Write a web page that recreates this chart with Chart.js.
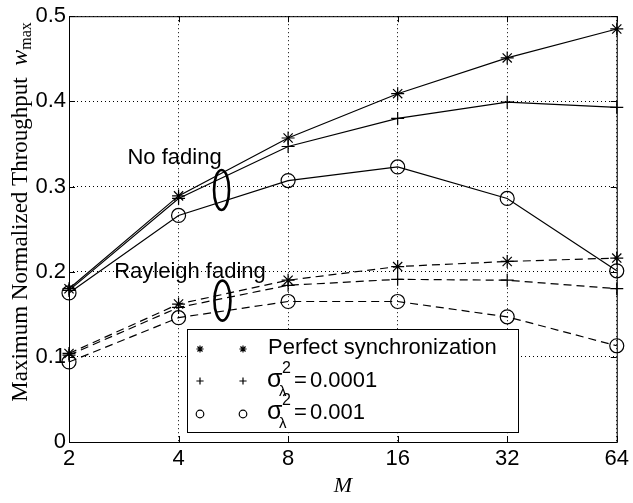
<!DOCTYPE html>
<html>
<head>
<meta charset="utf-8">
<title>Maximum normalized throughput vs M</title>
<script src="https://cdn.jsdelivr.net/npm/chart.js@4.4.1/dist/chart.umd.min.js"></script>
<style>
  html, body { margin: 0; padding: 0; background: #fff; }
  #wrap { width: 633px; height: 503px; }
</style>
</head>
<body>
<div id="wrap"><canvas id="chart" width="633" height="503"></canvas></div>
<script>
// Number of subcarriers M (log2 axis)
const mValues = [2, 4, 8, 16, 32, 64];
const yTicks = [0, 0.1, 0.2, 0.3, 0.4, 0.5];

// No fading (solid lines)
const noFadePerfect = [0.180, 0.289, 0.357, 0.409, 0.451, 0.485];
const noFadeSigma4 = [0.178, 0.286, 0.347, 0.380, 0.399, 0.393];
const noFadeSigma3 = [0.175, 0.266, 0.307, 0.323, 0.286, 0.201];

// Rayleigh fading (dashed lines)
const rayPerfect = [0.104, 0.162, 0.190, 0.206, 0.212, 0.216];
const raySigma4 = [0.102, 0.158, 0.184, 0.191, 0.190, 0.180];
const raySigma3 = [0.094, 0.146, 0.165, 0.165, 0.147, 0.113];

const FONT = '"Liberation Sans", Arial, sans-serif';
const SERIF = '"Liberation Serif", "DejaVu Serif", serif';

function series(values, style, dashed) {
  return {
    data: values.map((v, i) => ({ x: mValues[i], y: v })),
    borderColor: '#000',
    borderWidth: 1.2,
    borderDash: dashed ? [8, 5] : [],
    pointStyle: style,
    pointRadius: style === 'circle' ? 7 : 6.5,
    pointHoverRadius: style === 'circle' ? 7 : 6.5,
    pointBorderWidth: 1.2,
    pointBorderColor: '#000',
    pointBackgroundColor: 'rgba(0,0,0,0)',
    fill: false,
    tension: 0,
    clip: false
  };
}

// Box around the axes with inward tick marks
const framePlugin = {
  id: 'frame',
  afterDatasetsDraw(chart) {
    const { ctx, chartArea: a, scales } = chart;
    ctx.save();
    ctx.strokeStyle = '#000';
    ctx.lineWidth = 1;
    ctx.setLineDash([]);
    ctx.strokeRect(a.left + 0.5, a.top + 0.5, a.right - a.left, a.bottom - a.top);
    const len = 6;
    ctx.beginPath();
    mValues.forEach(v => {
      const x = Math.round(scales.x.getPixelForValue(v)) + 0.5;
      ctx.moveTo(x, a.bottom); ctx.lineTo(x, a.bottom - len);
      ctx.moveTo(x, a.top); ctx.lineTo(x, a.top + len);
    });
    yTicks.forEach(v => {
      const y = Math.round(scales.y.getPixelForValue(v)) + 0.5;
      ctx.moveTo(a.left, y); ctx.lineTo(a.left + len, y);
      ctx.moveTo(a.right, y); ctx.lineTo(a.right - len, y);
    });
    ctx.stroke();
    ctx.restore();
  }
};

// Text labels and ellipses grouping the curve families
const notesPlugin = {
  id: 'notes',
  afterDatasetsDraw(chart) {
    const { ctx, scales } = chart;
    const px = v => scales.x.getPixelForValue(v);
    const py = v => scales.y.getPixelForValue(v);
    ctx.save();
    ctx.fillStyle = '#000';
    ctx.font = '22px ' + FONT;
    ctx.textAlign = 'center';
    ctx.textBaseline = 'alphabetic';
    ctx.fillText('No fading', px(3.9), py(0.327));
    ctx.fillText('Rayleigh fading', px(4.3), py(0.193));
    ctx.strokeStyle = '#000';
    ctx.lineWidth = 2.6;
    ctx.beginPath();
    ctx.ellipse(px(5.25), py(0.296), 7.5, 20, 0, 0, Math.PI * 2);
    ctx.stroke();
    ctx.beginPath();
    ctx.ellipse(px(5.28), py(0.166), 8, 20, 0, 0, Math.PI * 2);
    ctx.stroke();
    ctx.restore();
  }
};

function drawMarker(ctx, style, x, y, r) {
  ctx.beginPath();
  if (style === 'circle') {
    ctx.arc(x, y, r, 0, Math.PI * 2);
  } else {
    ctx.moveTo(x - r, y); ctx.lineTo(x + r, y);
    ctx.moveTo(x, y - r); ctx.lineTo(x, y + r);
    if (style === 'star') {
      const d = r * Math.SQRT1_2;
      ctx.moveTo(x - d, y - d); ctx.lineTo(x + d, y + d);
      ctx.moveTo(x - d, y + d); ctx.lineTo(x + d, y - d);
    }
  }
  ctx.stroke();
}

// Legend box inside the plot area
const legendPlugin = {
  id: 'boxLegend',
  afterDatasetsDraw(chart) {
    const { ctx } = chart;
    const left = 187.5, top = 329.5, w = 331, h = 103;
    ctx.save();
    ctx.fillStyle = '#fff';
    ctx.fillRect(left, top, w, h);
    ctx.strokeStyle = '#000';
    ctx.lineWidth = 1;
    ctx.setLineDash([]);
    ctx.strokeRect(left, top, w, h);

    const rows = [
      { style: 'star', y: 349, r: 3.6 },
      { style: 'cross', y: 381, r: 3.6 },
      { style: 'circle', y: 414, r: 3.8 }
    ];
    ctx.lineWidth = 1.2;
    rows.forEach(row => {
      drawMarker(ctx, row.style, 200, row.y, row.r);
      drawMarker(ctx, row.style, 243, row.y, row.r);
    });

    ctx.fillStyle = '#000';
    ctx.textAlign = 'left';
    ctx.textBaseline = 'alphabetic';
    ctx.font = '22px ' + FONT;
    ctx.fillText('Perfect synchronization', 268, 354);

    const sigmaRow = (base, value) => {
      ctx.font = '25px ' + FONT;
      ctx.fillText('σ', 267, base);
      ctx.font = '16px ' + FONT;
      ctx.fillText('2', 282, base - 14);
      ctx.font = '15px ' + FONT;
      ctx.fillText('λ', 279, base + 9);
      ctx.font = '22px ' + FONT;
      ctx.fillText('=', 294, base);
      ctx.fillText(value, 310, base);
    };
    sigmaRow(387, '0.0001');
    sigmaRow(419, '0.001');
    ctx.restore();
  }
};

// Rotated y-axis title with subscripted w_max
const yTitlePlugin = {
  id: 'yTitle',
  afterDraw(chart) {
    const { ctx } = chart;
    const main = 'Maximum Normalized Throughput  ';
    ctx.save();
    ctx.fillStyle = '#000';
    ctx.textBaseline = 'alphabetic';
    ctx.textAlign = 'left';
    ctx.font = '23px ' + SERIF;
    const w1 = ctx.measureText(main).width;
    ctx.font = 'italic 24px ' + SERIF;
    const w2 = ctx.measureText('w').width;
    ctx.font = '16px ' + SERIF;
    const w3 = ctx.measureText('max').width;
    const total = w1 + w2 + w3;
    ctx.translate(27, 212);
    ctx.rotate(-Math.PI / 2);
    let x = -total / 2;
    ctx.font = '23px ' + SERIF;
    ctx.fillText(main, x, 0);
    x += w1;
    ctx.font = 'italic 24px ' + SERIF;
    ctx.fillText('w', x, 0);
    x += w2;
    ctx.font = '16px ' + SERIF;
    ctx.fillText('max', x, 4);
    ctx.restore();
  }
};

new Chart(document.getElementById('chart'), {
  type: 'line',
  data: {
    datasets: [
      series(noFadePerfect, 'star', false),
      series(noFadeSigma4, 'cross', false),
      series(noFadeSigma3, 'circle', false),
      series(rayPerfect, 'star', true),
      series(raySigma4, 'cross', true),
      series(raySigma3, 'circle', true)
    ]
  },
  options: {
    responsive: false,
    animation: false,
    layout: { padding: { left: 0, right: 13, top: 12, bottom: 0 } },
    plugins: {
      legend: { display: false },
      tooltip: { enabled: false }
    },
    scales: {
      x: {
        type: 'logarithmic',
        min: 2,
        max: 64,
        afterBuildTicks(scale) {
          scale.ticks = mValues.map(v => ({ value: v }));
        },
        afterFit(scale) { scale.height = 61; },
        ticks: {
          color: '#000',
          font: { family: FONT, size: 22 },
          padding: 4,
          autoSkip: false,
          maxRotation: 0,
          callback: v => String(v)
        },
        grid: { color: '#000', lineWidth: 1, drawTicks: false },
        border: { display: false, dash: [1, 3] },
        title: {
          display: true,
          text: 'M',
          color: '#000',
          font: { family: SERIF, size: 22, style: 'italic' },
          padding: { top: 2 }
        }
      },
      y: {
        min: 0,
        max: 0.5,
        afterBuildTicks(scale) {
          scale.ticks = yTicks.map(v => ({ value: v }));
        },
        afterFit(scale) { scale.width = 69; },
        ticks: {
          color: '#000',
          font: { family: FONT, size: 22 },
          padding: 3,
          callback: v => (v === 0 ? '0' : v.toFixed(1))
        },
        grid: { color: '#000', lineWidth: 1, drawTicks: false },
        border: { display: false, dash: [1, 3] }
      }
    }
  },
  plugins: [framePlugin, notesPlugin, legendPlugin, yTitlePlugin]
});
</script>
</body>
</html>
